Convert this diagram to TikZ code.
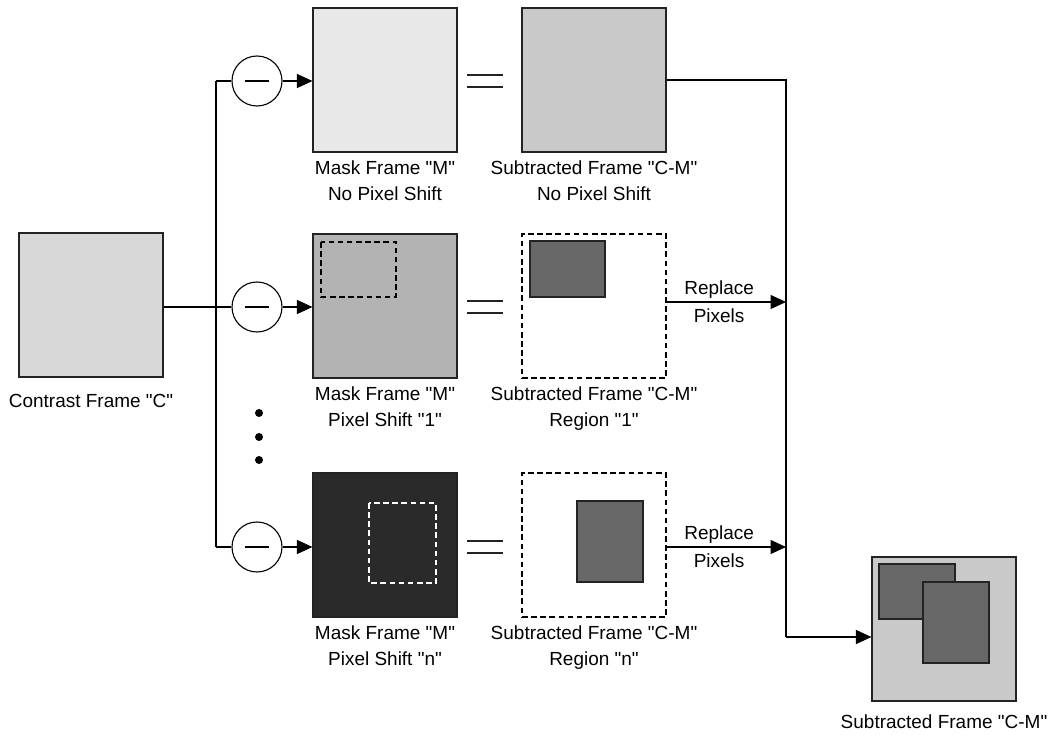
\documentclass[tikz,border=0pt]{standalone}
\usepackage{fontspec}
\setmainfont{Liberation Sans}[Ligatures=TeXOff]
\usetikzlibrary{arrows.meta,positioning}
\definecolor{frline}{RGB}{35,35,35}
\definecolor{frcontrast}{RGB}{216,216,216}
\definecolor{frmaskA}{RGB}{232,232,232}
\definecolor{frmaskB}{RGB}{179,179,179}
\definecolor{frmaskC}{RGB}{42,42,42}
\definecolor{frsub}{RGB}{201,201,201}
\definecolor{frregion}{RGB}{104,104,104}

\begin{document}
\begin{tikzpicture}[x=0.025cm,y=-0.025cm,
    frame/.style={draw=frline,line width=0.8pt,minimum width=3.6cm,
        minimum height=3.6cm,inner sep=0pt},
    dashframe/.style={frame,draw=black,fill=white,dash pattern=on 4pt off 2.5pt},
    minus/.style={circle,draw,line width=0.8pt,minimum size=1.25cm,inner sep=0pt,
        path picture={\draw[line width=0.8pt]
            (path picture bounding box.center) +(-12,0) -- +(12,0);}},
    lbl/.style={font=\fontsize{13.5}{18.5}\selectfont,align=center,inner sep=0pt},
    conn/.style={line width=0.8pt},
    arr/.style={conn,-{Triangle[length=11pt,width=10pt]}}]

\useasboundingbox (0,0) rectangle (1055,735);

% source frame
\node[frame,fill=frcontrast] (cframe) at (91,305) {};
\node[lbl,below=0.4cm of cframe] (clbl) {Contrast Frame "C"};

% mask frames
\node[frame,fill=frmaskA] (mask1) at (385,80) {};
\node[frame,fill=frmaskB] (mask2) at (385,306) {};
\node[frame,fill=frmaskC] (mask3) at (385,545) {};

\draw[black,line width=0.8pt,dash pattern=on 4pt off 2.5pt]
    (321,242) rectangle (396,297);
\draw[white,line width=0.8pt,dash pattern=on 4pt off 2.5pt]
    (369,503) rectangle (436,583);

\node[lbl,below=0.2cm of mask1] (mlbl1) {Mask Frame "M"\\No Pixel Shift};
\node[lbl,below=0.2cm of mask2] (mlbl2) {Mask Frame "M"\\Pixel Shift "1"};
\node[lbl,below=0.2cm of mask3] (mlbl3) {Mask Frame "M"\\Pixel Shift "n"};

% subtracted frames
\node[frame,fill=frsub] (sub1) at (594,80) {};
\node[dashframe] (sub2) at (594,306) {};
\node[dashframe] (sub3) at (594,545) {};

\filldraw[fill=frregion,draw=frline,line width=0.8pt] (530,241) rectangle (605,297);
\filldraw[fill=frregion,draw=frline,line width=0.8pt] (577,501) rectangle (643,582);

\node[lbl,below=0.2cm of sub1] (slbl1) {Subtracted Frame "C-M"\\No Pixel Shift};
\node[lbl,below=0.2cm of sub2] (slbl2) {Subtracted Frame "C-M"\\Region "1"};
\node[lbl,below=0.2cm of sub3] (slbl3) {Subtracted Frame "C-M"\\Region "n"};

% result frame
\node[frame,fill=frsub] (final) at (944,629) {};
\filldraw[fill=frregion,draw=frline,line width=0.8pt] (879,564) rectangle (955,619);
\filldraw[fill=frregion,draw=frline,line width=0.8pt] (923,582) rectangle (989,663);
\node[lbl,below=0.33cm of final] (flbl) {Subtracted Frame "C-M"};

% subtraction nodes
\node[minus] (min1) at (257,81) {};
\node[minus] (min2) at (257,307) {};
\node[minus] (min3) at (257,547) {};

\coordinate (jtop) at (216,81);
\coordinate (jmid) at (216,307);
\coordinate (jbot) at (216,547);

\draw[conn] (cframe.east |- jmid) -- (jmid);
\draw[conn] (jtop) -- (jbot);
\draw[conn] (jtop) -- (min1.west);
\draw[conn] (jmid) -- (min2.west);
\draw[conn] (jbot) -- (min3.west);

\draw[arr] (min1.east) -- (mask1.west |- min1);
\draw[arr] (min2.east) -- (mask2.west |- min2);
\draw[arr] (min3.east) -- (mask3.west |- min3);

\foreach \y in {413,437,460}
    \fill (259,\y) circle [radius=0.1cm];

% equal signs
\foreach \y in {81,307,547} {
    \draw[line width=1pt,frline] (467,\y-6) -- (503,\y-6);
    \draw[line width=1pt,frline] (467,\y+6) -- (503,\y+6);
}

% merge line
\coordinate (rtop) at (786,80);
\coordinate (rmid) at (786,302);
\coordinate (rbot) at (786,547);
\coordinate (rend) at (786,637);

\draw[conn] (sub1.east |- rtop) -- (rtop) -- (rend);
\draw[arr] (rend) -- (final.west |- rend);

\draw[arr] (sub2.east |- rmid) -- (rmid)
    node[lbl,pos=0.44,above=0.075cm] {Replace}
    node[lbl,pos=0.44,below=0.15cm] {Pixels};
\draw[arr] (sub3.east |- rbot) -- (rbot)
    node[lbl,pos=0.44,above=0.075cm] {Replace}
    node[lbl,pos=0.44,below=0.15cm] {Pixels};

\end{tikzpicture}
\end{document}
